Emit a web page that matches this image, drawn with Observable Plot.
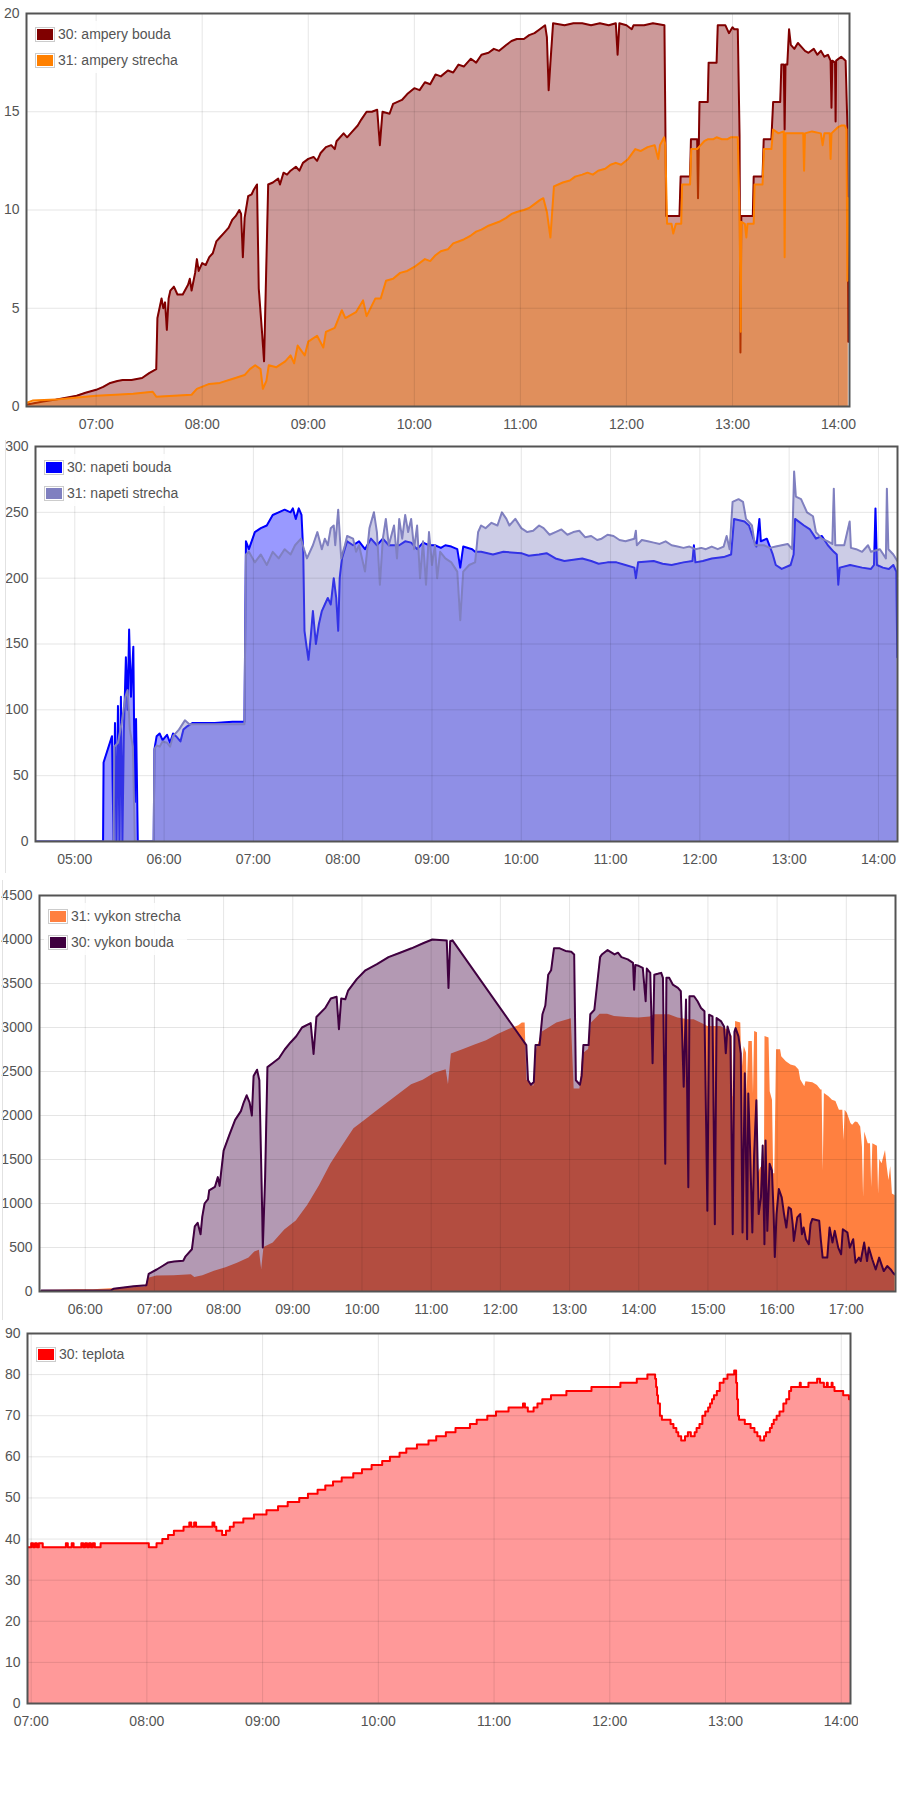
<!DOCTYPE html>
<html><head><meta charset="utf-8">
<script src="https://cdn.jsdelivr.net/npm/d3@7"></script>
<script src="https://cdn.jsdelivr.net/npm/@observablehq/plot@0.6"></script>
<style>
body{margin:0;background:#fff;}
#page{position:relative;width:909px;height:1799px;overflow:hidden;font-family:"Liberation Sans",Arial,sans-serif;}
.chart{position:absolute;left:0;}
.legend{position:absolute;background:rgba(255,255,255,0.85);padding:0 6px 0 4px;}
.row{height:26px;display:flex;align-items:center;font-size:14px;color:#545454;white-space:nowrap;}
.sw{border:1px solid #ccc;padding:1px;margin-right:3px;}
.sw div{width:16px;height:11px;}
.vline{position:absolute;width:1px;background:#e2e2e2;}
</style></head><body><div id="page"></div>
<script>
// ---------- chart 1: ampery ----------
const amperyBouda = [["06:21",0.1],["06:30",0.25],["06:37",0.35],["06:43",0.45],["06:49",0.55],["06:54",0.7],["07:00",0.85],["07:04",1.0],["07:08",1.2],["07:12",1.3],["07:15",1.35],["07:20",1.35],["07:26",1.45],["07:30",1.7],["07:34",1.9],["07:34:40",4.5],["07:37",5.5],["07:38",5.0],["07:39",5.3],["07:40",3.9],["07:41",5.5],["07:42",5.9],["07:44",6.1],["07:46",5.7],["07:49",5.7],["07:52",6.2],["07:53",6.5],["07:54",5.9],["07:56",6.8],["07:57",7.5],["07:58",6.9],["08:00",7.3],["08:02",7.2],["08:04",7.6],["08:06",7.8],["08:08",8.4],["08:10",8.6],["08:12",8.8],["08:15",9.1],["08:17",9.5],["08:19",9.7],["08:21",10.0],["08:22",9.8],["08:23",7.6],["08:24",9.6],["08:26",10.7],["08:28",10.8],["08:29",11.0],["08:31",11.3],["08:32",6.0],["08:33:40",4.0],["08:35",2.3],["08:36:20",7.4],["08:37:20",11.3],["08:40",11.4],["08:43",11.6],["08:44",11.3],["08:46",11.9],["08:48",11.8],["08:50",12.0],["08:53",12.2],["08:55",12.0],["08:57",12.4],["09:00",12.6],["09:03",12.7],["09:05",12.5],["09:07",12.9],["09:10",13.2],["09:13",13.3],["09:15",13.1],["09:16",13.5],["09:20",13.9],["09:22",13.7],["09:25",14.0],["09:28",14.3],["09:30",14.6],["09:33",15.0],["09:36",15.0],["09:39",15.1],["09:40:30",13.3],["09:42",15.0],["09:46",14.9],["09:48",15.4],["09:53",15.6],["09:56",15.9],["10:00",16.2],["10:03",16.1],["10:06",16.5],["10:09",16.4],["10:12",16.9],["10:15",16.8],["10:19",17.1],["10:22",17.0],["10:25",17.4],["10:28",17.3],["10:32",17.7],["10:35",17.5],["10:38",17.9],["10:42",18.0],["10:45",18.2],["10:48",18.1],["10:52",18.4],["10:55",18.6],["10:58",18.7],["11:02",18.7],["11:05",18.9],["11:08",19.0],["11:11",19.2],["11:14",19.4],["11:15",18.8],["11:16",16.1],["11:17",17.5],["11:18:30",19.5],["11:25",19.4],["11:30",19.5],["11:35",19.5],["11:40",19.4],["11:45",19.5],["11:50",19.4],["11:54",19.5],["11:55",17.9],["11:56",19.5],["12:00",19.4],["12:03",19.2],["12:04",19.4],["12:10",19.4],["12:15",19.5],["12:21:30",19.4],["12:22:30",9.7],["12:30",9.7],["12:30:40",11.7],["12:36",11.7],["12:36:30",13.6],["12:40",13.6],["12:40:30",10.6],["12:41",13.6],["12:41:20",15.5],["12:46",15.5],["12:46:30",17.5],["12:51",17.5],["12:51:40",19.4],["12:56",19.4],["12:58",19.0],["13:00",19.3],["13:01",19.2],["13:03",19.2],["13:04",13.8],["13:04:30",2.75],["13:05",9.7],["13:11:30",9.7],["13:12",11.7],["13:17",11.7],["13:17:40",13.6],["13:22",13.6],["13:23",15.5],["13:27",15.5],["13:27:40",17.4],["13:29",17.4],["13:29:30",14.1],["13:30",17.4],["13:31",17.4],["13:32",19.2],["13:33",18.4],["13:35",18.2],["13:37",18.5],["13:39",18.3],["13:41",18.1],["13:43",18.0],["13:46",18.2],["13:48",17.9],["13:50",18.1],["13:52",17.8],["13:54",17.9],["13:55:30",17.6],["13:56",15.2],["13:56:30",17.6],["13:58",17.5],["13:58:20",14.5],["13:58:40",17.6],["14:01:30",17.8],["14:04",17.6],["14:05",14.3],["14:05:30",3.3]];
const amperyStrecha = [["06:21",0.2],["06:24",0.3],["06:37",0.35],["06:48",0.45],["07:00",0.55],["07:11",0.6],["07:21",0.65],["07:32",0.75],["07:34",0.5],["07:44",0.55],["07:54",0.6],["07:57",0.9],["08:04",1.15],["08:10",1.2],["08:17",1.4],["08:24",1.6],["08:27",1.9],["08:30",2.1],["08:33",1.9],["08:34:20",0.9],["08:36:20",1.3],["08:37:40",2.1],["08:42",2.0],["08:47",2.3],["08:50",2.6],["08:52",2.2],["08:54",3.1],["08:58",2.6],["09:00",3.3],["09:05",3.6],["09:08:30",3.0],["09:10",3.8],["09:15",4.0],["09:19",4.9],["09:21",4.5],["09:27",4.8],["09:31",5.4],["09:33",4.6],["09:38",5.5],["09:41",5.5],["09:44",6.4],["09:48",6.5],["09:52",6.8],["09:56",6.9],["10:00",7.1],["10:06",7.5],["10:09",7.4],["10:12",7.7],["10:15",7.9],["10:19",8.0],["10:22",8.3],["10:25",8.4],["10:28",8.5],["10:32",8.7],["10:35",8.9],["10:38",9.0],["10:42",9.2],["10:45",9.3],["10:48",9.4],["10:52",9.6],["10:55",9.8],["10:58",9.9],["11:02",10.0],["11:05",10.1],["11:08",10.3],["11:11",10.5],["11:13",10.6],["11:15",9.9],["11:17",8.6],["11:19",11.2],["11:24",11.4],["11:28",11.5],["11:31",11.7],["11:35",11.8],["11:38",11.9],["11:41",11.8],["11:44",12.0],["11:48",12.1],["11:51",12.3],["11:54",12.4],["11:57",12.3],["12:01",12.6],["12:05",13.1],["12:08",13.0],["12:12",13.2],["12:16",13.3],["12:18",12.6],["12:19",13.3],["12:21:20",13.7],["12:22",13.3],["12:23",9.3],["12:25:30",9.3],["12:26:30",8.8],["12:28",9.3],["12:31",9.3],["12:31:30",11.3],["12:36",11.3],["12:36:40",13.1],["12:40",13.1],["12:42",13.3],["12:44",13.5],["12:46",13.6],["12:49",13.6],["12:51",13.7],["12:54",13.6],["12:57",13.6],["12:59",13.7],["13:03",13.7],["13:04",9.6],["13:04:40",3.8],["13:05",9.4],["13:07",9.3],["13:07:50",8.6],["13:08:30",9.3],["13:12",9.3],["13:12:30",11.3],["13:17",11.3],["13:17:50",13.1],["13:22",13.1],["13:23",14.1],["13:26",13.9],["13:29",14.0],["13:29:30",7.6],["13:30",13.9],["13:35",13.9],["13:40",13.9],["13:40:30",12.0],["13:41",13.9],["13:45",14.0],["13:50",13.9],["13:51",13.3],["13:52",13.9],["13:55",13.9],["13:55:30",12.6],["13:56",13.9],["13:59:30",14.2],["14:01:30",14.3],["14:03:30",14.3],["14:04:30",14.1],["14:05",6.4],["14:05:30",10.6]];

// ---------- chart 2: napeti ----------
const napetiBouda = [["04:34",0],["05:19",0],["05:19:20",60],["05:25",80],["05:26",0],["05:27",90],["05:28",0],["05:29",103],["05:30",0],["05:31",110],["05:32",0],["05:33",85],["05:34:20",140],["05:35:30",100],["05:36:30",161],["05:37:45",110],["05:39:20",148],["05:40:20",30],["05:41:10",93],["05:42:20",0],["05:53",0],["05:53:30",70],["05:55",80],["05:57",82],["05:59",77],["06:02",81],["06:04",75],["06:06",82],["06:08",80],["06:11",76],["06:13",85],["06:15",87],["06:19",90],["06:23",90],["06:34",90],["06:46",91],["06:54",91],["06:55",228],["06:57",222],["07:01",235],["07:05",238],["07:09",240],["07:13",248],["07:17",250],["07:21",252],["07:25",250],["07:26:30",253],["07:28:30",245],["07:30:30",253],["07:32:20",248],["07:33:30",220],["07:34:20",160],["07:35:30",150],["07:37",138],["07:38:30",155],["07:40",175],["07:42",150],["07:44",165],["07:46",175],["07:48",180],["07:50",185],["07:52",180],["07:54",200],["07:55:40",185],["07:57",160],["07:58",200],["07:59:30",215],["08:03",228],["08:07",225],["08:11",228],["08:15",222],["08:19",230],["08:23",225],["08:27",230],["08:31",225],["08:38",225],["08:42",228],["08:46",227],["08:50",222],["08:54",227],["08:58",225],["09:02",225],["09:06",223],["09:09",225],["09:13",224],["09:17",222],["09:19",208],["09:21",224],["09:27",222],["09:29",220],["09:33",220],["09:41",218],["09:48",220],["10:00",219],["10:05",217],["10:12",218],["10:17",219],["10:23",215],["10:29",213],["10:35",214],["10:41",215],["10:47",213],["10:52",211],["10:58",212],["11:04",212],["11:10",210],["11:16",208],["11:17",200],["11:18:30",212],["11:29",213],["11:35",211],["11:41",210],["11:49",212],["11:55",213],["11:56",225],["11:57",212],["12:02",213],["12:08",215],["12:16",216],["12:21",218],["12:23",245],["12:30",243],["12:33",240],["12:36",230],["12:38",224],["12:40",245],["12:41",228],["12:45",230],["12:49",218],["12:51",210],["12:55",207],["13:01",210],["13:03",218],["13:04",245],["13:10",240],["13:14",237],["13:18",230],["13:22",232],["13:26",225],["13:30",220],["13:32",218],["13:33",195],["13:34",208],["13:41",210],["13:49",208],["13:55",207],["13:57",210],["13:58",253],["13:59",210],["14:03",208],["14:07",207],["14:10",210],["14:12",205],["14:12:40",140]];
const napetiStrecha = [["04:34",0],["05:26",0],["05:26:30",72],["05:29",75],["05:31:30",90],["05:34",110],["05:35:30",115],["05:37",85],["05:39",72],["05:40:20",0],["05:53",0],["05:53:30",70],["05:55",73],["05:57",72],["05:59",76],["06:02",75],["06:04",72],["06:06",80],["06:10",85],["06:14",92],["06:17",89],["06:54",89],["06:55",218],["06:57",220],["07:01",212],["07:05",218],["07:09",210],["07:13",220],["07:17",215],["07:21",222],["07:25",218],["07:28",225],["07:32",230],["07:34",222],["07:36",215],["07:40",225],["07:43",235],["07:46",222],["07:48",230],["07:50",225],["07:52",238],["07:54",240],["07:55",225],["07:57",252],["07:59",215],["08:01:30",225],["08:03",232],["08:07",230],["08:09",220],["08:11",225],["08:15",205],["08:18",238],["08:21",250],["08:23",235],["08:25",195],["08:27",230],["08:29",245],["08:31",225],["08:34:30",240],["08:36:30",215],["08:38",245],["08:40",230],["08:42",248],["08:44",235],["08:46",245],["08:48",222],["08:50",240],["08:52",200],["08:54",228],["08:56",195],["08:58",235],["09:00",210],["09:02",225],["09:03:30",200],["09:05:30",220],["09:09",215],["09:13",212],["09:17",205],["09:19",168],["09:21",205],["09:25",210],["09:29",212],["09:31",235],["09:33",240],["09:36",238],["09:40",242],["09:44",240],["09:47",250],["09:50",245],["09:52",240],["09:56",245],["10:00",238],["10:04",235],["10:08",236],["10:12",240],["10:15",238],["10:19",233],["10:23",235],["10:27",237],["10:31",233],["10:35",235],["10:39",236],["10:43",231],["10:47",232],["10:51",229],["10:54",230],["10:58",233],["11:02",232],["11:06",229],["11:10",228],["11:16",230],["11:17",236],["11:17:40",225],["11:21",229],["11:25",228],["11:29",227],["11:33",226],["11:37",228],["11:41",225],["11:45",224],["11:49",223],["11:53",224],["11:57",222],["12:01",223],["12:04",222],["12:08",224],["12:12",222],["12:16",224],["12:18",232],["12:20",222],["12:22",258],["12:26",260],["12:29",258],["12:31",245],["12:35",240],["12:37",225],["12:43",225],["12:47",223],["12:51",224],["12:55",225],["12:59",226],["13:02",222],["13:03:20",281],["13:04:30",262],["13:08",260],["13:12",250],["13:16",247],["13:18",235],["13:22",230],["13:26",228],["13:29",226],["13:30",268],["13:31",225],["13:37",225],["13:40:40",243],["13:41:30",223],["13:45",222],["13:49",220],["13:53",225],["13:55",220],["14:01",222],["14:05",215],["14:05:40",268],["14:06:40",222],["14:10",218],["14:12:40",213]];

// ---------- chart 3: vykon ----------
const vykonStrecha = [["05:22",10],["05:37",15],["05:52",20],["06:07",20],["06:22",30],["06:37",40],["06:52",50],["06:55",150],["07:02",175],["07:17",180],["07:32",190],["07:35",160],["07:42",180],["07:52",230],["08:02",270],["08:12",320],["08:22",380],["08:27",450],["08:31",470],["08:33",250],["08:35",500],["08:43",550],["08:53",700],["09:03",800],["09:13",980],["09:23",1200],["09:33",1450],["09:43",1650],["09:53",1850],["10:03",1950],["10:13",2050],["10:23",2150],["10:33",2250],["10:43",2350],["10:53",2400],["11:03",2480],["11:13",2520],["11:15",2350],["11:17:30",2700],["11:28",2750],["11:38",2800],["11:48",2850],["11:58",2920],["12:08",2980],["12:16",3020],["12:19",3050],["12:21:30",3050],["12:23",2400],["12:29",2330],["12:31:30",2750],["12:36:30",2950],["12:49",3050],["13:01:30",3100],["13:04",2300],["13:09",2300],["13:11:30",2700],["13:16:30",2750],["13:19",3050],["13:26:30",3150],["13:33",3150],["13:39",3126],["13:50",3115],["14:00",3107],["14:10",3120],["14:13:30",3145],["14:26:30",3145],["14:34",3107],["14:43",3088],["14:48",3088],["14:54",3050],["15:00",3012],["15:06",3012],["15:11",3012],["15:17",2974],["15:21",2900],["15:22",2212],["15:23",2212],["15:24",3069],["15:28:30",3050],["15:29:30",2479],["15:31:30",2784],["15:33:30",2707],["15:34",2250],["15:35:30",2841],["15:38:30",2841],["15:39:30",2250],["15:40:30",2955],["15:43",2940],["15:43:30",1337],["15:46",1413],["15:49",1413],["15:49:30",2898],["15:53",2880],["15:54",2270],["15:56",2174],["15:57",1337],["15:58",1337],["15:59:30",2746],["16:03",2746],["16:04",2669],["16:08",2612],["16:12",2574],["16:16",2560],["16:19",2517],["16:20:30",2403],["16:24",2327],["16:25",2384],["16:31",2372],["16:35",2340],["16:38",2289],["16:39",2289],["16:40",1375],["16:41",2250],["16:45",2212],["16:48",2174],["16:51",2160],["16:54",2060],["16:57",2060],["16:58",1717],["16:59",2060],["17:01",2022],["17:04",1908],["17:05:30",1889],["17:08",1927],["17:10",1920],["17:12:30",1870],["17:14",1641],["17:15",1070],["17:16",1813],["17:19",1679],["17:21",1679],["17:22",1184],["17:23",1679],["17:27",1650],["17:28",1108],["17:29",1500],["17:31",1451],["17:34",1603],["17:35:30",1413],["17:37",1260],["17:38:30",1420],["17:40",1108],["17:42:30",1089]];
const vykonBouda = [["05:22",10],["06:22",10],["06:24:30",30],["06:42",60],["06:53",70],["06:55",200],["07:02",250],["07:07",290],["07:12",330],["07:17",340],["07:25",350],["07:27",400],["07:32:30",480],["07:35",740],["07:37:30",780],["07:40",650],["07:41:30",850],["07:43:30",1000],["07:46:30",1050],["07:47:30",1150],["07:52:30",1190],["07:55",1300],["07:56:30",1200],["08:00",1600],["08:05",1780],["08:10",1950],["08:15",2050],["08:17:30",2150],["08:20",2230],["08:22:30",2150],["08:24:30",2000],["08:26",2450],["08:29",2520],["08:31",2400],["08:33",1200],["08:34",500],["08:36",1300],["08:38",2550],["08:43",2600],["08:48",2650],["08:53",2750],["08:58",2830],["09:03",2900],["09:08",3000],["09:15:30",3050],["09:18",2700],["09:20:30",3120],["09:28",3220],["09:33",3330],["09:38",3350],["09:40",2980],["09:42",3330],["09:45:30",3320],["09:48",3420],["09:55:30",3550],["10:03",3650],["10:13",3720],["10:23",3800],["10:33",3850],["10:43",3900],["10:53:30",3960],["11:01",4000],["11:13:30",3990],["11:15",3450],["11:16:30",3980],["11:18:30",3990],["12:22:30",2800],["12:24",2400],["12:26:30",2350],["12:29",2380],["12:30:30",2800],["12:34",2800],["12:36:30",3150],["12:39",3250],["12:41:30",3600],["12:44",3650],["12:46:30",3900],["12:51:30",3900],["12:56:30",3870],["13:01:30",3860],["13:04",3830],["13:05:30",2400],["13:09",2350],["13:10:30",2450],["13:12",2800],["13:16:30",2800],["13:18",3150],["13:21:30",3200],["13:24",3500],["13:26:30",3800],["13:28",3830],["13:33",3880],["13:39",3830],["13:42",3850],["13:45",3800],["13:50:30",3774],["13:55",3735],["13:56",3430],["13:57",3710],["13:59",3705],["14:03:30",3678],["14:06",3298],["14:07",3670],["14:10",3621],["14:12",2593],["14:13:30",3600],["14:16:30",3610],["14:19:30",3621],["14:21",3564],["14:23",1451],["14:24",3564],["14:26:30",3564],["14:29:30",3488],["14:34",3450],["14:36:30",3412],["14:39",2327],["14:41",3317],["14:43",1184],["14:44",3355],["14:48",3355],["14:51",3298],["14:54",3222],["14:57",3184],["14:59:30",918],["15:01",3146],["15:04",3126],["15:06",765],["15:07:30",3107],["15:11:30",3069],["15:14",3012],["15:15:30",2707],["15:17",3012],["15:19:30",2898],["15:21:30",651],["15:23",2950],["15:24",2993],["15:26:30",2900],["15:28:30",2707],["15:30",670],["15:32",2479],["15:34",594],["15:35",2250],["15:36:30",1641],["15:38:30",670],["15:40",1527],["15:42",2174],["15:44",880],["15:46",1070],["15:47:30",1660],["15:49",537],["15:50",1717],["15:51:30",689],["15:53:30",1451],["15:55:30",1375],["15:57",880],["15:58",392],["15:59:30",880],["16:01:30",1165],["16:04",1070],["16:06",880],["16:08",727],["16:10",956],["16:12",937],["16:13:30",765],["16:14:30",575],["16:17:30",842],["16:20",880],["16:21:30",651],["16:23",727],["16:25",594],["16:27:30",537],["16:29",765],["16:30:30",823],["16:36:30",803],["16:38",575],["16:39:30",385],["16:43:30",385],["16:45:30",727],["16:48",556],["16:50",689],["16:53",499],["16:55:30",423],["16:57",708],["17:01",670],["17:03",499],["17:06",594],["17:08",327],["17:11",385],["17:12:30",346],["17:15:30",556],["17:18",346],["17:19:30",499],["17:22:30",366],["17:25:30",251],["17:28:30",385],["17:31",289],["17:32:30",232],["17:35:30",289],["17:38:30",251],["17:40:30",213],["17:42",194]];

// ---------- chart 4: teplota ----------
const teplota = [["06:58",38],["07:00",39],["07:01",38],["07:02",39],["07:03",38],["07:04",39],["07:05",39],["07:06",38],["07:18",39],["07:19",38],["07:21",39],["07:22",38],["07:26",39],["07:27",38],["07:28",39],["07:29",38],["07:30",39],["07:31",38],["07:32",39],["07:33",38],["07:36",39],["08:01",38],["08:05",39],["08:08",40],["08:11",41],["08:14",42],["08:19",43],["08:22",44],["08:23",43],["08:24:30",44],["08:25:30",43],["08:34",44],["08:35",43],["08:36",42],["08:39",41],["08:41",42],["08:43",43],["08:45",44],["08:50",45],["08:55:30",46],["09:02",47],["09:08",48],["09:13",49],["09:19",50],["09:23:30",51],["09:28:30",52],["09:32:30",53],["09:36:30",54],["09:41",55],["09:47",56],["09:51:30",57],["09:56:30",58],["10:02",59],["10:06",60],["10:11",61],["10:14:30",62],["10:20",63],["10:26",64],["10:30",65],["10:35",66],["10:40",67],["10:47:30",68],["10:51",69],["10:56:30",70],["11:01",71],["11:07:30",72],["11:15",73],["11:16",72],["11:17:30",71],["11:20:30",72],["11:22:30",73],["11:25",74],["11:29:30",75],["11:37:30",76],["11:50:30",77],["12:05:30",78],["12:14",79],["12:19:30",80],["12:23:30",79],["12:24",77],["12:24:30",75],["12:25",73],["12:26",70],["12:27",69],["12:31:30",68],["12:33",67],["12:34:30",66],["12:35:30",65],["12:37",64],["12:39",65],["12:40:30",66],["12:42",65],["12:44",66],["12:45",67],["12:46:30",68],["12:48",70],["12:49:30",71],["12:51",72],["12:52",73],["12:53",74],["12:54",75],["12:55:30",76],["12:57",78],["12:59",79],["13:01",80],["13:04:30",81],["13:05:30",78],["13:06",74],["13:06:30",70],["13:07",69],["13:10",68],["13:13",67],["13:15",66],["13:16:30",65],["13:18",64],["13:20",65],["13:21",66],["13:23",67],["13:24",68],["13:25",69],["13:26:30",70],["13:28",71],["13:30",73],["13:31:30",74],["13:33",76],["13:34",77],["13:38:30",78],["13:39",77],["13:43",78],["13:47:30",79],["13:49",78],["13:51",77],["13:52:30",78],["13:53",77],["13:55",78],["13:55:30",77],["13:56:30",76],["14:01",75],["14:04",74],["14:04:50",74]];

// tick values
const yTicks1 = [0, 5, 10, 15, 20];
const yTicks2 = [0, 50, 100, 150, 200, 250, 300];
const yTicks3 = [0, 500, 1000, 1500, 2000, 2500, 3000, 3500, 4000, 4500];
const yTicks4 = [0, 10, 20, 30, 40, 50, 60, 70, 80, 90];

const T = s => { const [h, m, sec] = s.split(":").map(Number); return new Date(Date.UTC(2015, 0, 1, h, m, sec || 0)); };
const rows = arr => arr.map(([t, v]) => ({t: T(t), v}));
const page = document.getElementById("page");

function chart({top, width = 909, height, ml, mr, mt, mb, x0, x1, yTicks, series, legend}) {
  const xd0 = T(x0), xd1 = T(x1);
  const hours = d3.utcHour.range(d3.utcHour.ceil(xd0), xd1);
  const marks = [];
  for (const s of series) {
    const d = rows(s.data);
    const curve = s.curve || "linear";
    marks.push(Plot.areaY(d, {x: "t", y: "v", fill: s.color, fillOpacity: s.fillOpacity ?? 0.4, curve, clip: true}));
    if (s.line !== false) marks.push(Plot.lineY(d, {x: "t", y: "v", stroke: s.color, strokeWidth: 2, curve, clip: true, strokeLinejoin: "round"}));
  }
  marks.push(Plot.gridX(hours, {stroke: "#000", strokeOpacity: 0.1, strokeWidth: 1}));
  marks.push(Plot.gridY(yTicks, {stroke: "#000", strokeOpacity: 0.1, strokeWidth: 1}));
  marks.push(Plot.frame({stroke: "#545454", strokeWidth: 2}));
  marks.push(Plot.axisX(hours, {tickFormat: d3.utcFormat("%H:%M"), tickSize: 0, tickPadding: 13, label: null}));
  marks.push(Plot.axisY(yTicks, {tickFormat: d => String(d), tickSize: 0, tickPadding: 7, label: null}));
  const svg = Plot.plot({
    width, height, marginLeft: ml, marginRight: mr, marginTop: mt, marginBottom: mb,
    x: {type: "utc", domain: [xd0, xd1]},
    y: {domain: [0, yTicks[yTicks.length - 1]]},
    style: {fontFamily: "'Liberation Sans', Arial, sans-serif", fontSize: "14px", color: "#545454", background: "transparent", overflow: "hidden"},
    marks
  });
  const wrap = document.createElement("div");
  wrap.className = "chart";
  wrap.style.top = top + "px";
  wrap.appendChild(svg);
  page.appendChild(wrap);

  const lg = document.createElement("div");
  lg.className = "legend";
  lg.style.left = (ml + 5) + "px";
  lg.style.top = (top + mt + 8) + "px";
  for (const [label, color] of legend) {
    const r = document.createElement("div");
    r.className = "row";
    r.innerHTML = `<div class="sw"><div style="background:${color}"></div></div><span>${label}</span>`;
    lg.appendChild(r);
  }
  page.appendChild(lg);
}

const cBoudaA = "#800000", cStrechaA = "#ff8000";
const cBoudaN = "#0000ff", cStrechaN = "#8080c0";
const cStrechaV = "#ff8040", cBoudaV = "#400040";
const cTeplota = "#ff0000";

chart({top: 0, height: 436, ml: 26, mr: 60, mt: 13, mb: 30, x0: "06:20:36", x1: "14:06:12", yTicks: yTicks1,
  series: [{data: amperyBouda, color: cBoudaA}, {data: amperyStrecha, color: cStrechaA}],
  legend: [["30: ampery bouda", cBoudaA], ["31: ampery strecha", cStrechaA]]});

chart({top: 436, height: 435, ml: 35, mr: 12, mt: 10, mb: 30, x0: "04:33:36", x1: "14:12:48", yTicks: yTicks2,
  series: [{data: napetiBouda, color: cBoudaN}, {data: napetiStrecha, color: cStrechaN}],
  legend: [["30: napeti bouda", cBoudaN], ["31: napeti strecha", cStrechaN]]});

chart({top: 875, height: 446, ml: 39, mr: 14, mt: 20, mb: 30, x0: "05:20:20", x1: "17:42:40", yTicks: yTicks3,
  series: [{data: vykonStrecha, color: cStrechaV, fillOpacity: 1, line: false}, {data: vykonBouda, color: cBoudaV}],
  legend: [["31: vykon strecha", cStrechaV], ["30: vykon bouda", cBoudaV]]});

chart({top: 1322, width: 858, height: 411, ml: 27, mr: 8, mt: 11, mb: 30, x0: "06:58:06", x1: "14:04:48", yTicks: yTicks4,
  series: [{data: teplota, color: cTeplota, curve: "step-after"}],
  legend: [["30: teplota", cTeplota]]});

// faint page edges seen at the left of the reference
const v1 = document.createElement("div"); v1.className = "vline"; v1.style.left = "5px"; v1.style.top = "440px"; v1.style.height = "433px"; page.appendChild(v1);
const v2 = document.createElement("div"); v2.className = "vline"; v2.style.left = "2px"; v2.style.top = "880px"; v2.style.height = "440px"; page.appendChild(v2);
</script></body></html>
